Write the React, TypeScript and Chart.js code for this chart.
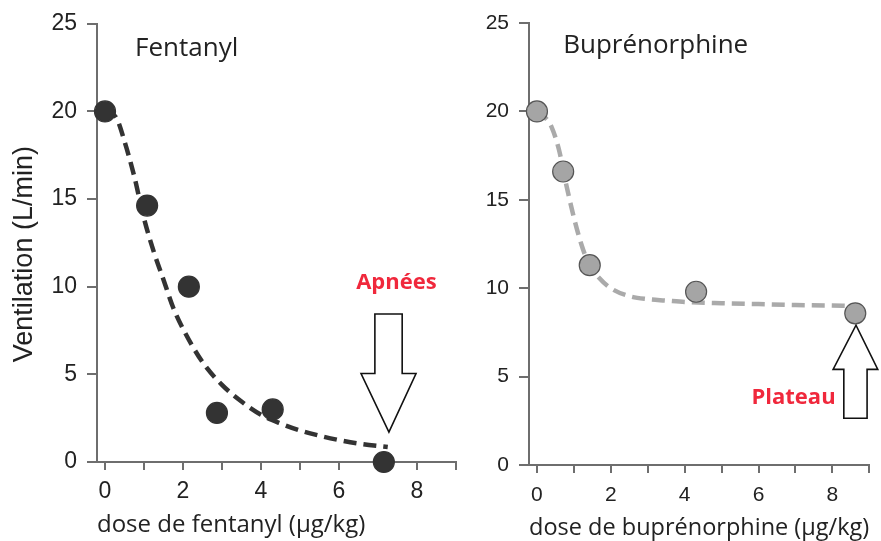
import React, { useEffect, useRef } from 'react';
import { Chart, registerables } from 'chart.js';

Chart.register(...registerables);

// ---------- Data ----------
// Fentanyl (left panel)
const fentanylDose = [0, 1.08, 2.15, 2.87, 4.3, 7.15];
const fentanylVentilation = [20, 14.63, 10.0, 2.8, 3.0, 0];
const fentanylFitDose = [0, 0.15, 0.3, 0.5, 0.75, 1, 1.25, 1.5, 1.75, 2, 2.5, 3, 3.5, 4, 4.5, 5, 5.5, 6, 6.5, 7.25];
const fentanylFitVentilation = [20, 19.9, 19.6, 18.3, 16.3, 13.9, 12.0, 10.4, 8.8, 7.6, 5.7, 4.4, 3.45, 2.7, 2.2, 1.8, 1.5, 1.25, 1.05, 0.85];

// Buprénorphine (right panel)
const bupDose = [0, 0.71, 1.43, 4.31, 8.62];
const bupVentilation = [20, 16.6, 11.3, 9.8, 8.58];
const bupFitDose = [0, 0.2, 0.4, 0.6, 0.8, 1, 1.2, 1.4, 1.7, 2, 2.5, 3, 3.5, 4, 5, 6, 7, 8, 8.45];
const bupFitVentilation = [20, 19.7, 19.1, 17.8, 15.8, 14.0, 12.5, 11.4, 10.55, 10.0, 9.55, 9.38, 9.3, 9.22, 9.15, 9.1, 9.05, 9.02, 9.0];

// Ticks
const xTickValues = [0, 1, 2, 3, 4, 5, 6, 7, 8, 9];
const xTickLabels = ['0', '', '2', '', '4', '', '6', '', '8', ''];
const yTickValues = [0, 5, 10, 15, 20, 25];
const yTickLabels = ['0', '5', '10', '15', '20', '25'];

// Text labels
const yAxisTitle = 'Ventilation (L/min)';
const fentanylTitle = 'Fentanyl';
const bupTitle = 'Buprénorphine';
const fentanylXTitle = 'dose de fentanyl (µg/kg)';
const bupXTitle = 'dose de buprénorphine (µg/kg)';
const apneaLabel = 'Apnées';
const plateauLabel = 'Plateau';

// ---------- Helpers ----------
const zip = (xs: number[], ys: number[]) => xs.map((x, i) => ({ x, y: ys[i] }));

type TextNote = { text: string; x: number; y: number; font: string; color: string };
type ArrowNote = {
  cx: number; tipY: number; headBaseY: number; tailY: number;
  shaftHalf: number; headHalf: number; tipX: number;
};

const notesPlugin = (texts: TextNote[], arrows: ArrowNote[]) => ({
  id: 'notes',
  afterDatasetsDraw(chart: any) {
    const { ctx } = chart;
    const xs = chart.scales.x;
    const ys = chart.scales.y;
    ctx.save();
    for (const a of arrows) {
      const px = (v: number) => xs.getPixelForValue(v);
      const py = (v: number) => ys.getPixelForValue(v);
      ctx.beginPath();
      ctx.moveTo(px(a.cx - a.shaftHalf), py(a.tailY));
      ctx.lineTo(px(a.cx + a.shaftHalf), py(a.tailY));
      ctx.lineTo(px(a.cx + a.shaftHalf), py(a.headBaseY));
      ctx.lineTo(px(a.cx + a.headHalf), py(a.headBaseY));
      ctx.lineTo(px(a.tipX), py(a.tipY));
      ctx.lineTo(px(a.cx - a.headHalf), py(a.headBaseY));
      ctx.lineTo(px(a.cx - a.shaftHalf), py(a.headBaseY));
      ctx.closePath();
      ctx.fillStyle = '#ffffff';
      ctx.fill();
      ctx.lineWidth = 1.6;
      ctx.strokeStyle = '#111111';
      ctx.lineJoin = 'miter';
      ctx.stroke();
    }
    for (const t of texts) {
      ctx.font = t.font;
      ctx.fillStyle = t.color;
      ctx.textAlign = 'left';
      ctx.textBaseline = 'middle';
      ctx.fillText(t.text, xs.getPixelForValue(t.x), ys.getPixelForValue(t.y));
    }
    ctx.restore();
  },
});

type Panel = {
  points: { x: number; y: number }[];
  fit: { x: number; y: number }[];
  pointColor: string;
  pointBorder: string;
  lineColor: string;
  xMin: number;
  xMax: number;
  yAxisWidth: number;
  xAxisHeight: number;
  padding: { left: number; right: number; top: number; bottom: number };
  tickFontSize: number;
  xTickPadding: number;
  yTitle: string | null;
  xTitle: string;
  xTitleAlign: 'start' | 'center';
  xTitleSize: number;
  xTitlePadBottom: number;
  texts: TextNote[];
  arrows: ArrowNote[];
};

const AXIS = '#6e6e6e';
const TEXT = '#222222';

function buildConfig(p: Panel): any {
  return {
    type: 'scatter',
    data: {
      datasets: [
        {
          data: p.points,
          backgroundColor: p.pointColor,
          borderColor: p.pointBorder,
          borderWidth: 1.2,
          pointRadius: 10.5,
          showLine: false,
          clip: false,
          order: 0,
        },
        {
          data: p.fit,
          showLine: true,
          borderColor: p.lineColor,
          borderWidth: 4.5,
          borderDash: [13, 7],
          pointRadius: 0,
          cubicInterpolationMode: 'monotone',
          fill: false,
          clip: false,
          order: 1,
        },
      ],
    },
    options: {
      responsive: false,
      animation: false,
      events: [],
      layout: { padding: p.padding },
      plugins: {
        legend: { display: false },
        tooltip: { enabled: false },
        title: { display: false },
      },
      scales: {
        x: {
          type: 'linear',
          min: p.xMin,
          max: p.xMax,
          afterBuildTicks: (s: any) => {
            s.ticks = xTickValues.map((v) => ({ value: v }));
          },
          afterFit: (s: any) => {
            s.height = p.xAxisHeight;
          },
          ticks: {
            autoSkip: false,
            maxRotation: 0,
            padding: p.xTickPadding,
            color: TEXT,
            font: { family: '"Liberation Sans", Arial, sans-serif', size: p.tickFontSize, lineHeight: 1.2 },
            callback: (v: any) => {
              const i = xTickValues.indexOf(Number(v));
              return i >= 0 ? xTickLabels[i] : '';
            },
          },
          grid: {
            display: true,
            drawOnChartArea: false,
            drawTicks: true,
            tickLength: 8,
            color: AXIS,
            lineWidth: 2,
          },
          border: { display: true, color: AXIS, width: 2 },
          title: {
            display: true,
            text: p.xTitle,
            align: p.xTitleAlign,
            color: TEXT,
            font: { family: '"Open Sans", "Noto Sans", sans-serif', size: p.xTitleSize, lineHeight: 1 },
            padding: { top: 0, bottom: p.xTitlePadBottom },
          },
        },
        y: {
          type: 'linear',
          min: 0,
          max: 25,
          afterBuildTicks: (s: any) => {
            s.ticks = yTickValues.map((v) => ({ value: v }));
          },
          afterFit: (s: any) => {
            s.width = p.yAxisWidth;
          },
          ticks: {
            autoSkip: false,
            padding: 10,
            color: TEXT,
            font: { family: '"Liberation Sans", Arial, sans-serif', size: p.tickFontSize },
            callback: (v: any) => {
              const i = yTickValues.indexOf(Number(v));
              return i >= 0 ? yTickLabels[i] : '';
            },
          },
          grid: {
            display: true,
            drawOnChartArea: false,
            drawTicks: true,
            tickLength: 10,
            color: AXIS,
            lineWidth: 2,
          },
          border: { display: true, color: AXIS, width: 2 },
          title: {
            display: !!p.yTitle,
            text: p.yTitle ? p.yTitle + '   ' : '',
            color: TEXT,
            font: { family: '"Liberation Sans", Arial, sans-serif', size: 27, lineHeight: 1 },
            padding: { top: 11, bottom: 0 },
          },
        },
      },
    },
    plugins: [notesPlugin(p.texts, p.arrows)],
  };
}

const leftPanel: Panel = {
  points: zip(fentanylDose, fentanylVentilation),
  fit: zip(fentanylFitDose, fentanylFitVentilation),
  pointColor: '#333333',
  pointBorder: '#333333',
  lineColor: '#333333',
  xMin: -0.205,
  xMax: 9,
  yAxisWidth: 97,
  xAxisHeight: 79,
  padding: { left: 0, right: 425, top: 20, bottom: 0 },
  tickFontSize: 23,
  xTickPadding: 8,
  yTitle: yAxisTitle,
  xTitle: fentanylXTitle,
  xTitleAlign: 'start',
  xTitleSize: 24,
  xTitlePadBottom: 3.5,
  texts: [
    { text: fentanylTitle, x: 0.77, y: 23.6, font: '26px "Open Sans", "Noto Sans", sans-serif', color: TEXT },
    { text: apneaLabel, x: 6.44, y: 10.2, font: 'bold 22px "Open Sans", "Noto Sans", sans-serif', color: '#f0283c' },
  ],
  arrows: [
    { cx: 7.27, tipX: 7.28, tipY: 1.7, headBaseY: 5.05, tailY: 8.44, shaftHalf: 0.35, headHalf: 0.705 },
  ],
};

const rightPanel: Panel = {
  points: zip(bupDose, bupVentilation),
  fit: zip(bupFitDose, bupFitVentilation),
  pointColor: '#a5a5a5',
  pointBorder: '#555555',
  lineColor: '#aaaaaa',
  xMin: -0.215,
  xMax: 9,
  yAxisWidth: 529,
  xAxisHeight: 76,
  padding: { left: 0, right: 8, top: 23, bottom: 0 },
  tickFontSize: 21,
  xTickPadding: 9.4,
  yTitle: null,
  xTitle: bupXTitle,
  xTitleAlign: 'center',
  xTitleSize: 23.5,
  xTitlePadBottom: 1,
  texts: [
    { text: bupTitle, x: 0.71, y: 23.7, font: '26px "Open Sans", "Noto Sans", sans-serif', color: TEXT },
    { text: plateauLabel, x: 5.81, y: 3.79, font: 'bold 22px "Open Sans", "Noto Sans", sans-serif', color: '#f0283c' },
  ],
  arrows: [
    { cx: 8.625, tipX: 8.64, tipY: 7.91, headBaseY: 5.41, tailY: 2.64, shaftHalf: 0.315, headHalf: 0.605 },
  ],
};

export default function App() {
  const leftRef = useRef<HTMLCanvasElement>(null);
  const rightRef = useRef<HTMLCanvasElement>(null);

  useEffect(() => {
    const c1 = new Chart(leftRef.current as HTMLCanvasElement, buildConfig(leftPanel));
    const c2 = new Chart(rightRef.current as HTMLCanvasElement, buildConfig(rightPanel));
    return () => {
      c1.destroy();
      c2.destroy();
    };
  }, []);

  return (
    <div style={{ position: 'fixed', left: 0, top: 0, width: 881, height: 541, background: '#ffffff', overflow: 'hidden' }}>
      <canvas ref={leftRef} width={881} height={541} style={{ position: 'absolute', left: 0, top: 0 }} />
      <canvas ref={rightRef} width={881} height={541} style={{ position: 'absolute', left: 0, top: 0 }} />
    </div>
  );
}
